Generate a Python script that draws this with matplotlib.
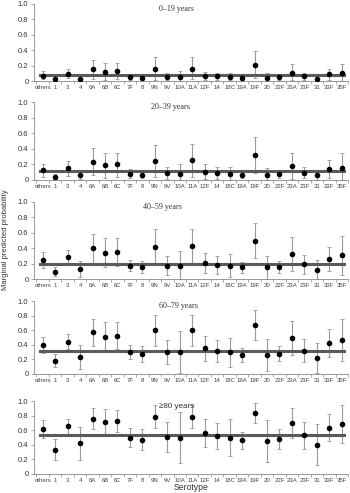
import numpy as np
import matplotlib
matplotlib.use("Agg")
import matplotlib.pyplot as plt

plt.rcParams['font.family'] = ['Liberation Sans', 'DejaVu Sans']

serotipos = ["others", "1", "3", "4", "6A", "6B", "6C", "7F", "8", "9N", "9V", "10A", "11A",
             "12F", "14", "18C", "19A", "19F", "20", "22F", "23A", "23F", "31", "33F", "35F"]

faixas = ["0\u201319 years", "20\u201339 years", "40\u201359 years", "60\u201379 years", "\u226580 years"]

# valores estimados (ponto, limite inferior, limite superior) para cada faixa etária
p_0_19 = [0.07, 0.03, 0.09, 0.03, 0.15, 0.12, 0.13, 0.05, 0.04, 0.16, 0.05, 0.05, 0.16,
          0.06, 0.06, 0.05, 0.04, 0.21, 0.04, 0.05, 0.11, 0.06, 0.03, 0.09, 0.10]
lo_0_19 = [0.02, 0.01, 0.04, 0.01, 0.03, 0.01, 0.02, 0.01, 0.01, 0.01, 0.01, 0.00, 0.02,
           0.01, 0.01, 0.01, 0.01, 0.04, 0.00, 0.01, 0.01, 0.01, 0.00, 0.01, 0.00]
hi_0_19 = [0.13, 0.05, 0.15, 0.06, 0.27, 0.23, 0.23, 0.09, 0.08, 0.31, 0.10, 0.13, 0.31,
           0.12, 0.10, 0.10, 0.07, 0.39, 0.10, 0.08, 0.22, 0.11, 0.07, 0.16, 0.22]

p_20_39 = [0.13, 0.04, 0.15, 0.06, 0.23, 0.19, 0.20, 0.08, 0.07, 0.25, 0.09, 0.08, 0.26,
           0.10, 0.09, 0.08, 0.07, 0.32, 0.07, 0.08, 0.18, 0.09, 0.06, 0.14, 0.16]
lo_20_39 = [0.04, 0.01, 0.05, 0.01, 0.06, 0.03, 0.04, 0.03, 0.02, 0.04, 0.01, 0.00, 0.04,
            0.01, 0.01, 0.00, 0.02, 0.09, 0.00, 0.02, 0.01, 0.02, 0.00, 0.02, 0.00]
hi_20_39 = [0.21, 0.08, 0.25, 0.10, 0.41, 0.35, 0.35, 0.14, 0.12, 0.45, 0.17, 0.20, 0.46,
            0.20, 0.17, 0.17, 0.12, 0.55, 0.15, 0.13, 0.35, 0.17, 0.12, 0.26, 0.35]

p_40_59 = [0.25, 0.09, 0.28, 0.13, 0.40, 0.34, 0.35, 0.17, 0.16, 0.42, 0.17, 0.17, 0.43,
           0.21, 0.18, 0.17, 0.15, 0.50, 0.15, 0.16, 0.32, 0.19, 0.12, 0.26, 0.31]
lo_40_59 = [0.14, 0.04, 0.19, 0.03, 0.20, 0.15, 0.17, 0.10, 0.08, 0.20, 0.05, 0.00, 0.20,
            0.08, 0.07, 0.03, 0.08, 0.27, 0.00, 0.08, 0.11, 0.07, 0.00, 0.10, 0.05]
hi_40_59 = [0.35, 0.15, 0.38, 0.23, 0.59, 0.53, 0.53, 0.25, 0.23, 0.65, 0.30, 0.37, 0.65,
            0.34, 0.30, 0.32, 0.22, 0.73, 0.30, 0.23, 0.54, 0.31, 0.25, 0.42, 0.56]

p_60_79 = [0.40, 0.18, 0.44, 0.23, 0.57, 0.51, 0.52, 0.30, 0.27, 0.60, 0.30, 0.30, 0.60,
           0.35, 0.32, 0.30, 0.26, 0.67, 0.26, 0.28, 0.49, 0.32, 0.22, 0.42, 0.47]
lo_60_79 = [0.29, 0.09, 0.34, 0.07, 0.39, 0.32, 0.34, 0.20, 0.17, 0.38, 0.14, 0.01, 0.39,
            0.18, 0.16, 0.10, 0.17, 0.47, 0.04, 0.18, 0.26, 0.16, 0.02, 0.23, 0.18]
hi_60_79 = [0.51, 0.27, 0.55, 0.40, 0.75, 0.71, 0.71, 0.40, 0.38, 0.81, 0.47, 0.59, 0.81,
            0.52, 0.46, 0.50, 0.35, 0.87, 0.48, 0.38, 0.73, 0.48, 0.42, 0.61, 0.75]

p_80 = [0.61, 0.33, 0.66, 0.42, 0.76, 0.71, 0.72, 0.50, 0.47, 0.78, 0.51, 0.50, 0.78,
        0.56, 0.52, 0.50, 0.46, 0.83, 0.45, 0.48, 0.70, 0.53, 0.40, 0.63, 0.68]
lo_80 = [0.49, 0.19, 0.55, 0.19, 0.62, 0.55, 0.57, 0.37, 0.33, 0.63, 0.30, 0.15, 0.63,
         0.37, 0.34, 0.25, 0.34, 0.70, 0.16, 0.34, 0.49, 0.34, 0.12, 0.45, 0.42]
hi_80 = [0.74, 0.48, 0.76, 0.64, 0.90, 0.89, 0.88, 0.63, 0.61, 0.94, 0.71, 0.85, 0.94,
         0.75, 0.70, 0.75, 0.57, 0.97, 0.74, 0.62, 0.90, 0.71, 0.68, 0.82, 0.94]

# probabilidade média de cada faixa (linha horizontal)
medias = [0.08, 0.12, 0.20, 0.32, 0.54]

pontos = [p_0_19, p_20_39, p_40_59, p_60_79, p_80]
inferiores = [lo_0_19, lo_20_39, lo_40_59, lo_60_79, lo_80]
superiores = [hi_0_19, hi_20_39, hi_40_59, hi_60_79, hi_80]

# posição dos painéis em pixels (topo, base)
paineis_px = [(4, 81), (102, 180), (202, 279), (301, 374), (401, 474)]
titulo_x = [0.455, 0.435, 0.41, 0.46, 0.455]
titulo_fonte = ['Liberation Serif'] * 4 + ['Liberation Sans']

W, H = 350, 493
fig = plt.figure(figsize=(W / 100, H / 100), dpi=100)
x = np.arange(len(serotipos))

for k in range(5):
    topo, base = paineis_px[k]
    ax = fig.add_axes([34 / W, 1 - base / H, 314 / W, (base - topo) / H])
    p = np.array(pontos[k])
    lo = np.array(inferiores[k])
    hi = np.array(superiores[k])
    ax.errorbar(x, p, yerr=[p - lo, hi - p], fmt="none", ecolor="#9a9a9a",
                elinewidth=0.8, capsize=1.5, capthick=0.6, zorder=2)
    ax.plot([-0.2, 24.2], [medias[k], medias[k]], color="#5a5a5a", lw=2.2, zorder=3)
    ax.plot(x, p, "o", color="black", ms=3.0, zorder=4)

    ax.set_xlim(-0.7, 24.35)
    ax.set_ylim(0, 1.0)
    ax.set_yticks([0, 0.2, 0.4, 0.6, 0.8, 1.0])
    ax.set_yticklabels(["0", "0.2", "0.4", "0.6", "0.8", "1.0"], fontsize=5.5, color="#333333")
    ax.set_xticks(x)
    ax.set_xticklabels(serotipos, fontsize=4.3, color="#444444")
    ax.set_xticks(np.arange(len(serotipos) + 1) - 0.5, minor=True)
    ax.tick_params(axis="x", which="major", length=0, pad=3)
    ax.tick_params(axis="x", which="minor", length=2, width=0.5, color="#888888")
    ax.tick_params(axis="y", length=2, width=0.5, color="#888888", pad=2)
    for lado in ["top", "right"]:
        ax.spines[lado].set_visible(False)
    for lado in ["left", "bottom"]:
        ax.spines[lado].set_color("#888888")
        ax.spines[lado].set_linewidth(0.6)
    ax.text(titulo_x[k], 0.93, faixas[k], transform=ax.transAxes, ha="center", va="center",
            fontsize=5.8, color="#333333", family=[titulo_fonte[k], 'DejaVu Sans'])

fig.text(6 / W, 1 - 240 / H, "Marginal predicted probability", rotation=90,
         ha="center", va="center", fontsize=5.5, color="#333333")
fig.text(191 / W, 1 - 487 / H, "Serotype", ha="center", va="center", fontsize=6.2, color="#333333")

fig.savefig("out.png", dpi=100)
